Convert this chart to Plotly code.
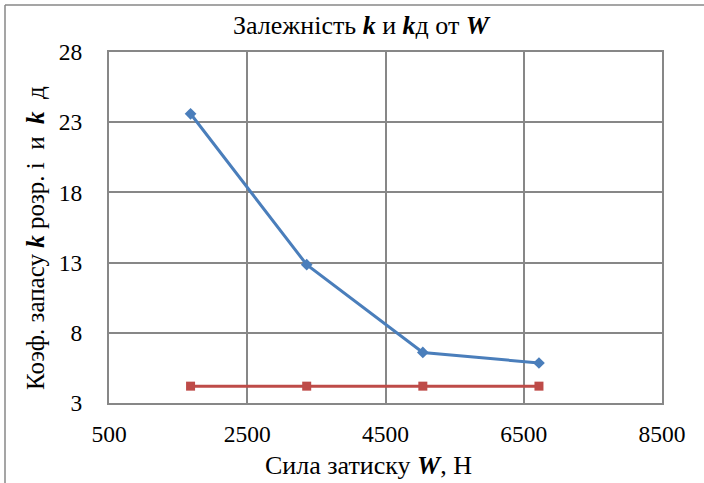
import plotly.graph_objects as go

# Data
force_w = [1680, 3360, 5040, 6720]
k_calc = [23.6, 12.85, 6.6, 5.85]
k_req = [4.2, 4.2, 4.2, 4.2]

x_ticks = [500, 2500, 4500, 6500, 8500]
y_ticks = [3, 8, 13, 18, 23, 28]

FONT = "Liberation Serif, Times New Roman, serif"
GRID = "#878787"
NB = "\u00a0"

fig = go.Figure()
fig.add_trace(go.Scatter(
    x=force_w, y=k_calc, mode="lines+markers",
    line=dict(color="#4A7EBB", width=3),
    marker=dict(symbol="diamond", size=9, color="#4A7EBB"),
    showlegend=False,
))
fig.add_trace(go.Scatter(
    x=force_w, y=k_req, mode="lines+markers",
    line=dict(color="#BE4B48", width=3),
    marker=dict(symbol="square", size=9, color="#BE4B48"),
    showlegend=False,
))

L, R, T, B = 109, 42, 52, 80
W, H = 704, 483
pw, ph = W - L - R, H - T - B

def px_x(p):
    return (p - L) / pw

def px_y(p):
    return (H - B - p) / ph

y_title = ("Коэф. запасу <b><i>k</i></b> розр. і" + NB * 2 + "и" + NB * 2
           + "<b><i>k</i></b>" + NB * 2 + "д")
x_title = "Сила затиску <b><i>W</i></b>, Н"

fig.update_layout(
    width=W, height=H,
    margin=dict(l=L, r=R, t=T, b=B, pad=0),
    paper_bgcolor="white", plot_bgcolor="white",
    font=dict(family=FONT, color="black", size=23),
    title=dict(
        text="Залежність <b><i>k</i></b> и <b><i>k</i></b>д от <b><i>W</i></b>",
        x=px_x(361), xanchor="center", xref="paper",
        y=1 - 25 / H, yanchor="middle",
        font=dict(family=FONT, size=26, color="black"),
    ),
    xaxis=dict(
        range=[500, 8500], tickvals=x_ticks, ticktext=[str(v) for v in x_ticks],
        showgrid=True, gridcolor=GRID, gridwidth=1.5,
        showline=True, linecolor=GRID, linewidth=2, mirror=True,
        ticks="", zeroline=False, ticklabelstandoff=9,
        tickfont=dict(family=FONT, size=23.5, color="black"),
    ),
    yaxis=dict(
        range=[3, 28], tickvals=y_ticks, ticktext=[str(v) for v in y_ticks],
        showgrid=True, gridcolor=GRID, gridwidth=1.5,
        showline=True, linecolor=GRID, linewidth=2, mirror=True,
        ticks="", zeroline=False, ticklabelstandoff=20,
        tickfont=dict(family=FONT, size=23.5, color="black"),
    ),
    annotations=[
        dict(text=x_title, xref="paper", yref="paper",
             x=px_x(368), y=px_y(465), xanchor="center", yanchor="middle",
             showarrow=False, font=dict(family=FONT, size=26, color="black")),
        dict(text=y_title, xref="paper", yref="paper", textangle=-90,
             x=px_x(35), y=px_y(238), xanchor="center", yanchor="middle",
             showarrow=False, font=dict(family=FONT, size=25, color="black")),
    ],
    shapes=[
        dict(type="line", xref="paper", yref="paper",
             x0=px_x(5), x1=px_x(720), y0=px_y(5), y1=px_y(5),
             line=dict(color=GRID, width=1.5)),
        dict(type="line", xref="paper", yref="paper",
             x0=px_x(5), x1=px_x(5), y0=px_y(5), y1=px_y(500),
             line=dict(color=GRID, width=1.5)),
    ],
)

fig.write_html("out.html")
